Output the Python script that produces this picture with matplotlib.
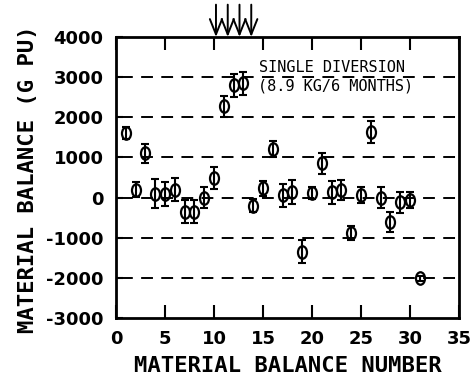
import numpy as np
import matplotlib
matplotlib.use("Agg")
import matplotlib.pyplot as plt
from matplotlib.path import Path

# material balance data
balanceNumber = list(range(1, 32))
balance = [1600, 200, 1100, 100, 80, 200, -350, -350, 0, 480,
           2270, 2800, 2850, -200, 230, 1200, 60, 140, -1350, 120,
           850, 130, 180, -880, 60, 1640, 0, -600, -120, -60, -2010]
sigma = [150, 190, 230, 350, 300, 290, 290, 280, 270, 270,
         270, 290, 290, 170, 190, 200, 290, 290, 290, 150,
         270, 290, 250, 180, 200, 270, 270, 250, 270, 200, 60]
gridLevels = [3000, 2000, 1000, 0, -1000, -2000]
diversionMarks = [10.2, 11.4, 12.6, 13.8]
xTicks = [0, 5, 10, 15, 20, 25, 30, 35]
yTicks = [-3000, -2000, -1000, 0, 1000, 2000, 3000, 4000]

plt.rcParams['lines.scale_dashes'] = False
labelFont = dict(family='DejaVu Sans Mono', weight='bold', size=16)

fig = plt.figure(figsize=(4.72, 3.77), dpi=100)
ax = fig.add_axes([0.2458, 0.1565, 0.7267, 0.7454])

# tall open ellipse marker like the plotter circles
circle = Path.unit_circle()
ellipse = Path(circle.vertices * np.array([0.72, 1.0]), circle.codes)

for level in gridLevels:
    ax.axhline(level, xmin=0.015, xmax=1, color='black', lw=1.4, dashes=(8.5, 6))

# bar runs through the open circle, like a phi glyph
ax.errorbar(balanceNumber, balance, yerr=sigma, fmt='none', ecolor='black',
            elinewidth=1.5, capsize=3, capthick=1.5, zorder=3)
ax.plot(balanceNumber, balance, linestyle='none', marker=ellipse, markersize=9,
        mfc='none', mec='black', mew=1.6, zorder=4)

for x in diversionMarks:
    ax.annotate('', xy=(x, 1.0), xycoords=('data', 'axes fraction'),
                xytext=(x, 1.115), textcoords=('data', 'axes fraction'),
                arrowprops=dict(arrowstyle='->,head_length=0.5,head_width=0.2', lw=1.4,
                                color='black', mutation_scale=22, shrinkA=0, shrinkB=0),
                annotation_clip=False)

ax.text(14.6, 3250, 'SINGLE DIVERSION', family='DejaVu Sans Mono', size=11, va='center')
ax.text(14.5, 2790, '(8.9 KG/6 MONTHS)', family='DejaVu Sans Mono', size=11, va='center')

ax.set_xlim(0, 35)
ax.set_ylim(-3000, 4000)
ax.set_xticks(xTicks)
ax.set_yticks(yTicks)
ax.set_xticklabels([str(t) for t in xTicks])
ax.set_yticklabels([str(t) for t in yTicks])
for side in ['left', 'right', 'top', 'bottom']:
    ax.spines[side].set_linewidth(2)

ax.tick_params(axis='x', direction='in', length=9.5, width=1.5, top=True, pad=9)
ax.tick_params(axis='y', direction='in', length=5, width=1.5, pad=9)
for lab in ax.get_xticklabels() + ax.get_yticklabels():
    lab.set_fontfamily('DejaVu Sans')
    lab.set_fontweight('bold')
    lab.set_fontsize(13)

ax.set_xlabel('MATERIAL BALANCE NUMBER', **labelFont)
ax.set_ylabel('MATERIAL BALANCE (G PU)', **labelFont)
ax.xaxis.set_label_coords(0.5, -0.171)
ax.xaxis.label.set_verticalalignment('center')
ax.yaxis.set_label_coords(-0.2566, 0.495)
ax.yaxis.label.set_verticalalignment('center')

fig.savefig('out.png', dpi=100)
